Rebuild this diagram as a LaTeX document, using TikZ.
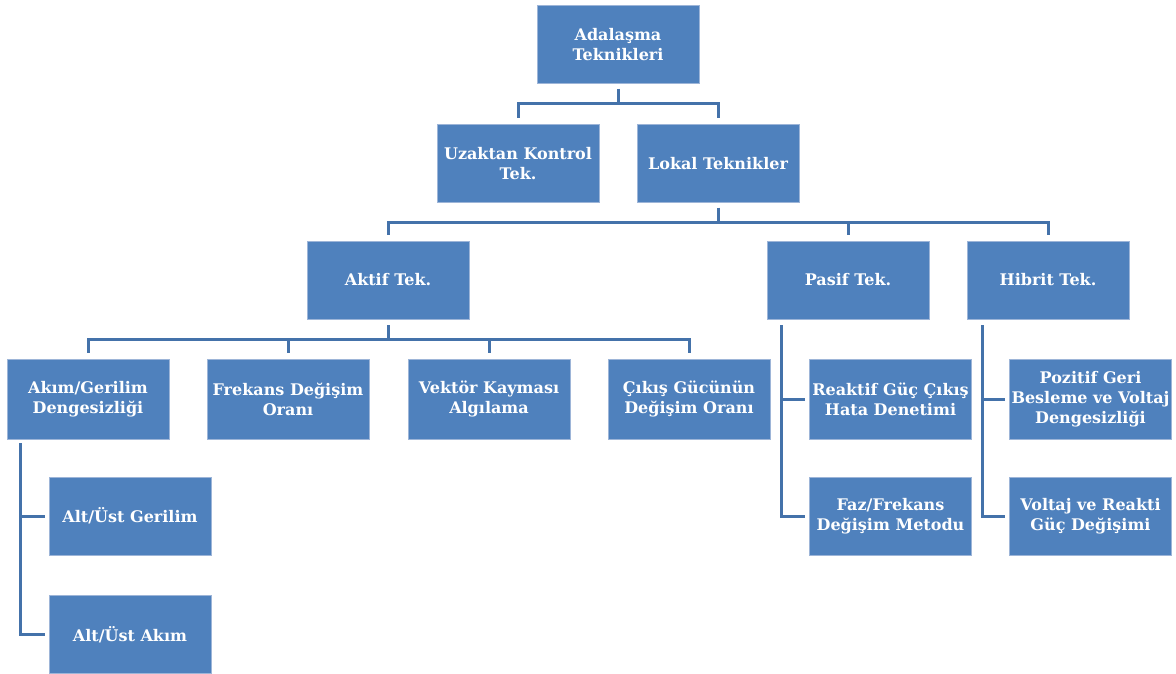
\documentclass[tikz,border=0pt]{standalone}
\usepackage{fontspec}
\setmainfont{DejaVu Serif}
\usetikzlibrary{calc}
\definecolor{boxblue}{HTML}{4F81BD}
\definecolor{boxedge}{HTML}{9DB5D8}
\definecolor{linkblue}{HTML}{4472AA}
\tikzset{
  box/.style={rectangle, fill=boxblue, draw=boxedge, line width=0.6pt,
    minimum width=162pt, minimum height=78pt, inner sep=1pt,
    align=center, text=white,
    font=\fontsize{16}{20}\selectfont\bfseries},
  conn/.style={draw=linkblue, line width=3pt, line join=miter},
}
\begin{document}
\begin{tikzpicture}[x=1pt,y=-1pt]
\useasboundingbox (0,0) rectangle (1176,674);
% level 0/1
\node[box] (ada) at (618,44.5) {Adalaşma\\Teknikleri};
\node[box] (uz)  at (518,163.5) {Uzaktan Kontrol\\Tek.};
\node[box] (lok) at (718,163.5) {Lokal Teknikler};
% level 2
\node[box] (akt) at (388,280) {Aktif Tek.};
\node[box] (pas) at (848,280) {Pasif Tek.};
\node[box] (hib) at (1048,280) {Hibrit Tek.};
% level 3
\node[box, minimum height=80pt] (akim) at (88,399) {Akım/Gerilim\\Dengesizliği};
\node[box, minimum height=80pt] (frek) at (288,399) {Frekans Değişim\\Oranı};
\node[box, minimum height=80pt] (vek)  at (489,399) {Vektör Kayması\\Algılama};
\node[box, minimum height=80pt] (cik)  at (689,399) {Çıkış Gücünün\\Değişim Oranı};
\node[box, minimum height=80pt] (reak) at (890.5,399) {Reaktif Güç Çıkış\\Hata Denetimi};
\node[box, minimum height=80pt] (poz)  at (1090.5,399) {Pozitif Geri\\Besleme ve Voltaj\\Dengesizliği};
\node[box] (faz)  at (890.5,516) {Faz/Frekans\\Değişim Metodu};
\node[box] (volt) at (1090.5,516) {Voltaj ve Reakti\\Güç Değişimi};
\node[box] (alt1) at (130,516) {Alt/Üst Gerilim};
\node[box] (alt2) at (130,634.5) {Alt/Üst Akım};
% bar coordinates
\coordinate (b1) at (0,104);
\coordinate (b2) at (0,222);
\coordinate (b3) at (0,339);
% connectors
\foreach \c in {uz,lok}
  \draw[conn, shorten <=5pt, shorten >=6pt] (ada.south) -- (ada.south |- b1) -| (\c.north);
\foreach \c in {akt,pas,hib}
  \draw[conn, shorten <=5pt, shorten >=6pt] (lok.south) -- (lok.south |- b2) -| (\c.north);
\foreach \c in {akim,frek,vek,cik}
  \draw[conn, shorten <=6pt, shorten >=6pt] (akt.south) -- (akt.south |- b3) -| (\c.north);
\foreach \c in {reak,faz}
  \draw[conn, shorten <=6pt, shorten >=4pt] ([xshift=15pt]pas.south west) |- (\c.west);
\foreach \c in {poz,volt}
  \draw[conn, shorten <=6pt, shorten >=4pt] ([xshift=16pt]hib.south west) |- (\c.west);
\foreach \c in {alt1,alt2}
  \draw[conn, shorten <=4pt, shorten >=4pt] ([xshift=14pt]akim.south west) |- (\c.west);
\end{tikzpicture}
\end{document}
